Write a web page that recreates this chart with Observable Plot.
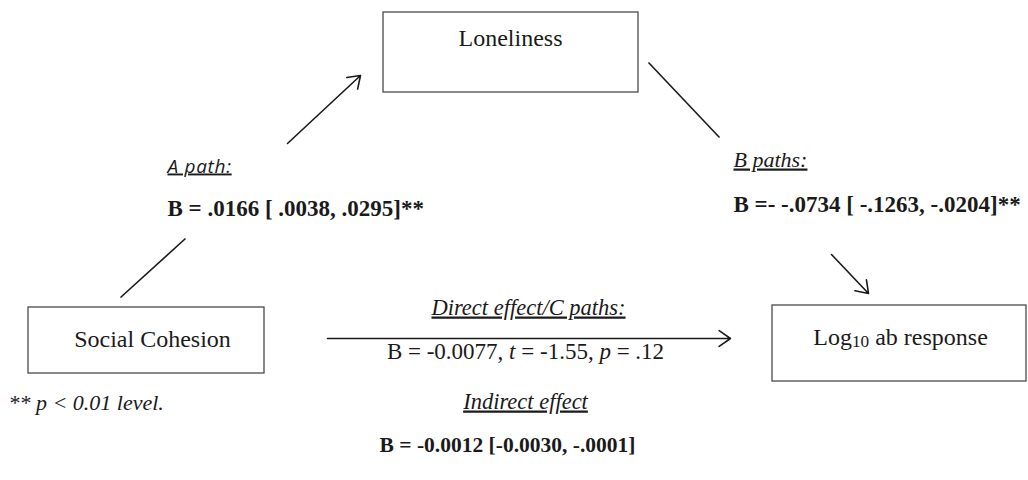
<!DOCTYPE html>
<html><head><meta charset="utf-8">
<script src="https://cdn.jsdelivr.net/npm/d3@7"></script>
<script src="https://cdn.jsdelivr.net/npm/@observablehq/plot@0.6"></script>
<style>body{margin:0;background:#fff}</style>
</head><body><div id="chart"></div>
<script>
// ---- content (data) ----
const nodeNames = ["Loneliness", "Social Cohesion", "Log10 ab response"];
const pathHeadings = ["A path:", "B paths:", "Direct effect/C paths:", "Indirect effect"];
const pathStats = [
  "B = .0166 [ .0038, .0295]**",
  "B =- -.0734 [ -.1263, -.0204]**",
  "B = -0.0077, t = -1.55, p = .12",
  "B = -0.0012 [-0.0030, -.0001]"
];
const noteText = "** p < 0.01 level.";

// rich-text segments for labels that mix styles: [text, italic?, subscript?]
const richSegments = {
  "Log10 ab response": [["Log", 0, 0], ["10", 0, 1], [" ab response", 0, 0]],
  "B = -0.0077, t = -1.55, p = .12": [["B = -0.0077, ", 0, 0], ["t", 1, 0], [" = -1.55, ", 0, 0], ["p", 1, 0], [" = .12", 0, 0]],
  "** p < 0.01 level.": [["** ", 0, 0], ["p", 1, 0], [" < 0.01 level.", 0, 0]]
};

// ---- diagram layout (diagram frame coordinates) ----
const boxLayout = [
  {x1: 383, x2: 638, y1: 12, y2: 92, lx: 510, ly: 45},
  {x1: 28, x2: 264, y1: 307, y2: 373, lx: 152, ly: 346},
  {x1: 772, x2: 1026, y1: 305, y2: 381, lx: 900, ly: 344}
];
const linkLayout = [
  {x1: 287, y1: 143, x2: 360, y2: 75, head: true},
  {x1: 120, y1: 297, x2: 185, y2: 238, head: false},
  {x1: 648, y1: 62, x2: 719, y2: 137, head: false},
  {x1: 831, y1: 254, x2: 868, y2: 293, head: true},
  {x1: 327, y1: 338, x2: 730, y2: 338, head: true}
];
const headingLayout = [
  {x: 167, y: 172, anchor: "start", sans: true},
  {x: 733, y: 166, anchor: "start", sans: false},
  {x: 528, y: 314, anchor: "middle", sans: false},
  {x: 525, y: 408, anchor: "middle", sans: false}
];
const statLayout = [
  {x: 167, y: 215, anchor: "start", bold: true, size: 23},
  {x: 733, y: 211, anchor: "start", bold: true, size: 23},
  {x: 525, y: 358, anchor: "middle", bold: false, size: 23},
  {x: 507, y: 451, anchor: "middle", bold: true, size: 21.5}
];
const noteLayout = {x: 8, y: 409};

const boxes = boxLayout.map((b, i) => ({...b, name: nodeNames[i]}));
const headings = headingLayout.map((h, i) => ({...h, text: pathHeadings[i]}));
const stats = statLayout.map((s, i) => ({...s, text: pathStats[i]}));
const notes = [{...noteLayout, text: noteText}];

const serif = "'Liberation Serif', 'Times New Roman', serif";
const sans = "'Open Sans', 'Noto Sans', sans-serif";
const ink = "#1a1a1a";

function textMark(data, opts) {
  return Plot.text(data, {x: "x", y: "y", text: "text", lineAnchor: "bottom", fill: ink, ...opts});
}

const svg = Plot.plot({
  width: 1028, height: 480, margin: 0,
  x: {domain: [0, 1028], range: [0, 1028], axis: null},
  y: {domain: [0, 480], range: [0, 480], axis: null},
  style: {background: "#fff"},
  marks: [
    Plot.rect(boxes, {x1: "x1", x2: "x2", y1: "y1", y2: "y2", fill: "none", stroke: "#4a4a4a", strokeWidth: 1.3}),
    Plot.text(boxes, {x: "lx", y: "ly", text: "name", lineAnchor: "bottom", textAnchor: "middle", fontFamily: serif, fontSize: 24, fill: ink}),
    Plot.link(linkLayout.filter(d => !d.head), {x1: "x1", y1: "y1", x2: "x2", y2: "y2", stroke: ink, strokeWidth: 1.6}),
    Plot.arrow(linkLayout.filter(d => d.head), {x1: "x1", y1: "y1", x2: "x2", y2: "y2", stroke: ink, strokeWidth: 1.6, headLength: 13, headAngle: 70}),
    textMark(headings.filter(d => d.sans), {textAnchor: "start", fontFamily: sans, fontStyle: "italic", fontSize: 19}),
    textMark(headings.filter(d => !d.sans && d.anchor === "start"), {textAnchor: "start", fontFamily: serif, fontStyle: "italic", fontSize: 22}),
    textMark(headings.filter(d => !d.sans && d.anchor === "middle"), {textAnchor: "middle", fontFamily: serif, fontStyle: "italic", fontSize: 22.5}),
    textMark(stats.filter(d => d.bold && d.anchor === "start"), {textAnchor: "start", fontFamily: serif, fontWeight: "bold", fontSize: "size"}),
    textMark(stats.filter(d => d.bold && d.anchor === "middle"), {textAnchor: "middle", fontFamily: serif, fontWeight: "bold", fontSize: "size"}),
    textMark(stats.filter(d => !d.bold), {textAnchor: "middle", fontFamily: serif, fontSize: "size"}),
    textMark(notes, {textAnchor: "start", fontFamily: serif, fontStyle: "italic", fontSize: 22})
  ]
});

// underline headings, apply rich-text segments
svg.querySelectorAll("text").forEach(t => {
  const s = t.textContent;
  if (pathHeadings.includes(s)) t.setAttribute("text-decoration", "underline");
  if (s === pathHeadings[0]) t.setAttribute("letter-spacing", "0.7");
  if (richSegments[s]) {
    t.textContent = "";
    const segs = richSegments[s];
    segs.forEach(([str, it, sub], k) => {
      const ts = document.createElementNS("http://www.w3.org/2000/svg", "tspan");
      ts.textContent = str;
      if (it) ts.setAttribute("font-style", "italic");
      if (sub) { ts.setAttribute("font-size", "0.72em"); ts.setAttribute("dy", "0.13em"); }
      else if (k > 0 && segs[k - 1][2]) ts.setAttribute("dy", "-0.094em");
      t.appendChild(ts);
    });
  }
});

document.getElementById("chart").appendChild(svg);
</script>
</body></html>
